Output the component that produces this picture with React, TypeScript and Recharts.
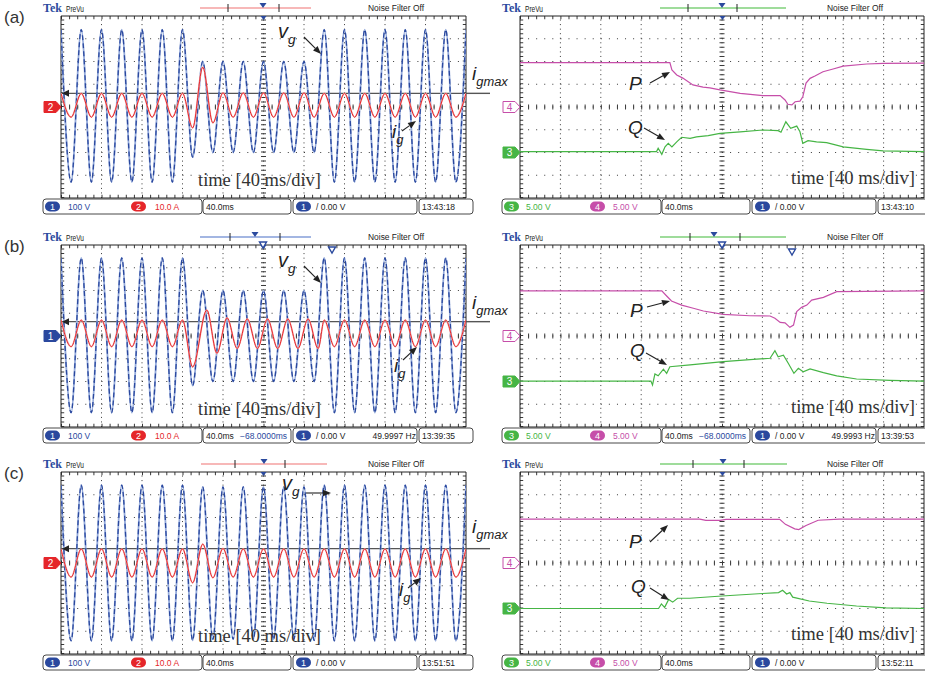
import { ComposedChart, Line, ReferenceLine, XAxis, YAxis } from 'recharts';

type Pt = [number, number];
type Lag = { from: number; to: number; div: number };

// one extremum per half cycle (10 ms = 0.25 div at 40 ms/div), in scope divisions
const HALF = 0.25;

const VG_A = [
  3.4, -3.3, 3.4, -3.3, 3.4, -3.3, 3.4, -3.3, 3.4, -3.3, 3.4, -3.3, 3.4,
  -2.2, 2.0, -2.0, 2.0, -2.0, 2.0, -2.0, 2.0, -2.0, 2.0, -2.0, 2.0, -2.0,
  3.4, -3.3, 3.4, -3.3, 3.4, -3.3, 3.4, -3.3, 3.4, -3.3, 3.4, -3.3, 3.4, -3.3, 3.4,
];
const IG_A = [
  0.6, -0.45, 0.6, -0.45, 0.6, -0.45, 0.6, -0.45, 0.6, -0.45, 0.6, -0.45, 0.6,
  -0.92, 1.75, -0.7, 0.62, -0.45, 0.62, -0.45, 0.62, -0.45, 0.62, -0.45, 0.62, -0.45,
  0.6, -0.45, 0.6, -0.45, 0.6, -0.45, 0.6, -0.45, 0.6, -0.45, 0.6, -0.45, 0.6, -0.45, 0.6,
];

const VG_B = [
  3.43, -3.37, 3.43, -3.37, 3.43, -3.37, 3.43, -3.37, 3.43, -3.37, 3.43, -3.37, 3.43,
  -2.18, 2.0, -2.0, 2.0, -2.0, 2.0, -2.0, 2.0, -2.0, 2.0, -2.0, 2.0, -2.0,
  3.43, -3.37, 3.43, -3.37, 3.43, -3.37, 3.43, -3.37, 3.43, -3.37, 3.43, -3.37, 3.43, -3.37, 3.43,
];
const IG_B = [
  0.7, -0.47, 0.7, -0.47, 0.7, -0.47, 0.7, -0.47, 0.7, -0.47, 0.7, -0.47, 0.7,
  -1.36, 1.14, -0.76, 0.8, -0.55, 0.75, -0.55, 0.75, -0.55, 0.75, -0.55, 0.75, -0.55,
  0.7, -0.47, 0.7, -0.47, 0.7, -0.47, 0.7, -0.47, 0.7, -0.47, 0.7, -0.47, 0.7, -0.47, 0.7,
];
const IG_B_LAG: Lag = { from: 14, to: 25, div: 0.1 };

const VG_C = [
  3.42, -3.42, 3.42, -3.42, 3.42, -3.42, 3.42, -3.42, 3.42, -3.42, 3.42, -3.42, 3.42,
  -3.4, 3.35, -3.35, 3.35, -3.35, 3.35, -3.35, 3.35, -3.35, 3.35, -3.35, 3.35, -3.4,
  3.42, -3.42, 3.42, -3.42, 3.42, -3.42, 3.42, -3.42, 3.42, -3.42, 3.42, -3.42, 3.42, -3.42, 3.42,
];
const IG_C = [
  0.62, -0.62, 0.62, -0.62, 0.62, -0.62, 0.62, -0.62, 0.62, -0.62, 0.62, -0.62, 0.62,
  -0.87, 0.83, -0.65, 0.64, -0.62, 0.62, -0.62, 0.62, -0.62, 0.62, -0.62, 0.62, -0.62,
  0.62, -0.62, 0.62, -0.62, 0.62, -0.62, 0.62, -0.62, 0.62, -0.62, 0.62, -0.62, 0.62, -0.62, 0.62,
];

const IGMAX = [0.6, 0.63, 0.63];

// P and Q traces: [time (div), level (div)]
const P_A: Pt[] = [
  [0, 1.95], [3.71, 1.95], [3.76, 1.63], [3.88, 1.41], [4.03, 1.27], [4.28, 0.97], [4.53, 0.87],
  [4.7, 0.84], [4.95, 0.75], [5.45, 0.6], [6.01, 0.5], [6.44, 0.5], [6.56, 0.31], [6.63, 0.12],
  [6.73, 0.09], [6.81, 0.23], [6.93, 0.26], [7.0, 0.45], [7.08, 1.05], [7.18, 1.26], [7.3, 1.36],
  [7.5, 1.55], [7.75, 1.67], [8.0, 1.8], [8.58, 1.89], [8.99, 1.92], [10, 1.93],
];
const Q_A: Pt[] = [
  [0, -1.96], [3.38, -1.96], [3.42, -1.81], [3.51, -2.08], [3.59, -1.75], [3.67, -1.6], [3.76, -1.75],
  [3.88, -1.53], [4.0, -1.33], [4.21, -1.38], [4.37, -1.31], [4.66, -1.26], [4.95, -1.16],
  [5.45, -1.09], [6.01, -1.01], [6.39, -1.04], [6.46, -1.11], [6.58, -0.65], [6.7, -0.94],
  [6.85, -0.84], [6.93, -1.09], [7.0, -1.6], [7.13, -1.48], [7.34, -1.53], [7.59, -1.57],
  [8.0, -1.75], [8.58, -1.86], [8.99, -1.93], [10, -1.96],
];
const P_B: Pt[] = [
  [0, 1.98], [3.51, 1.98], [3.63, 1.76], [3.75, 1.54], [4.0, 1.36], [4.29, 1.22], [4.54, 1.1],
  [5.03, 0.95], [5.69, 0.89], [6.19, 0.88], [6.31, 0.78], [6.44, 0.6], [6.56, 0.58], [6.68, 0.38],
  [6.77, 0.48], [6.85, 1.07], [6.97, 1.26], [7.1, 1.36], [7.22, 1.58], [7.51, 1.7], [7.84, 1.95],
  [10, 1.98],
];
const Q_B: Pt[] = [
  [0, -1.98], [3.24, -1.98], [3.28, -2.15], [3.34, -1.67], [3.42, -1.75], [3.55, -1.46],
  [3.63, -1.64], [3.71, -1.35], [4.21, -1.27], [5.03, -1.13], [5.86, -1.02], [6.19, -0.98],
  [6.31, -0.65], [6.39, -0.91], [6.52, -0.84], [6.64, -1.2], [6.78, -1.64], [6.89, -1.42],
  [7.01, -1.57], [7.18, -1.45], [7.51, -1.61], [7.84, -1.75], [8.33, -1.89], [9.16, -1.95],
  [10, -1.98],
];
const P_C: Pt[] = [
  [0, 1.93], [4.45, 1.93], [4.6, 1.87], [4.95, 1.87], [5.1, 1.92], [6.43, 1.92], [6.57, 1.7],
  [6.8, 1.5], [6.9, 1.47], [7.08, 1.65], [7.38, 1.88], [7.9, 1.93], [10, 1.93],
];
const Q_C: Pt[] = [
  [0, -2.0], [3.43, -2.0], [3.5, -1.8], [3.58, -1.95], [3.68, -1.6], [3.78, -1.72], [3.9, -1.55],
  [4.2, -1.55], [5.0, -1.45], [6.0, -1.34], [6.4, -1.3], [6.5, -1.2], [6.6, -1.36], [6.68, -1.3],
  [6.75, -1.5], [7.16, -1.67], [7.6, -1.77], [8.33, -1.89], [9.06, -1.97], [10, -2.0],
];

// layout
const GRID_H = 182;
const LX = 61;
const LW = 405;
const RX = 520;
const RW = 404;
const PAD = 4;
const SANS = '"Liberation Sans", Arial, sans-serif';
const SERIF = '"Liberation Serif", "Times New Roman", serif';

const BLUE = '#2a489e';
const BLUE_LT = '#94aadb';
const RED = '#e5262a';
const RED_LT = '#f7b8b8';
const MAG = '#c64ea9';
const GRN = '#46b545';
const GRID = '#3a3a3a';

function wave(ext: number[], lag?: Lag) {
  return ext.map((v, k) => ({
    t: k * HALF + (lag && k >= lag.from && k <= lag.to ? lag.div : 0),
    v,
  }));
}
const trace = (pts: Pt[]) => pts.map(([t, v]) => ({ t, v }));

function graticule(w: number) {
  const dx = `1 ${w / 50 - 1}`;
  const dy = `1 ${GRID_H / 40 - 1}`;
  const ex = 1.6 / (w / 10);
  const ey = 1.6 / (GRID_H / 8);
  const els = [];
  for (let i = 1; i < 10; i++)
    els.push(<ReferenceLine key={'vx' + i} x={i} stroke={GRID} strokeDasharray={dy} />);
  for (let j = -3; j <= 3; j++)
    els.push(<ReferenceLine key={'hy' + j} y={j} stroke={GRID} strokeDasharray={dx} />);
  els.push(<ReferenceLine key="cx" x={5} stroke={GRID} strokeWidth={5} strokeDasharray={dy} />);
  els.push(<ReferenceLine key="cy" y={0} stroke={GRID} strokeWidth={5} strokeDasharray={dx} />);
  els.push(<ReferenceLine key="bt" y={4 - ey} stroke={GRID} strokeWidth={3.2} strokeDasharray={dx} />);
  els.push(<ReferenceLine key="bb" y={-4 + ey} stroke={GRID} strokeWidth={3.2} strokeDasharray={dx} />);
  els.push(<ReferenceLine key="bl" x={ex} stroke={GRID} strokeWidth={3.2} strokeDasharray={dy} />);
  els.push(<ReferenceLine key="br" x={10 - ex} stroke={GRID} strokeWidth={3.2} strokeDasharray={dy} />);
  for (const x of [0, 10]) els.push(<ReferenceLine key={'fx' + x} x={x} stroke="#222" />);
  for (const y of [-4, 4]) els.push(<ReferenceLine key={'fy' + y} y={y} stroke="#222" />);
  return els;
}

function Scope({ x, y, w, children }: { x: number; y: number; w: number; children: any }) {
  return (
    <div style={{ position: 'absolute', left: x - PAD, top: y - PAD }}>
      <ComposedChart
        width={w + 2 * PAD}
        height={GRID_H + 2 * PAD}
        margin={{ top: PAD, right: PAD, bottom: PAD, left: PAD }}
      >
        <XAxis type="number" dataKey="t" domain={[0, 10]} hide allowDataOverflow />
        <YAxis type="number" domain={[-4, 4]} hide allowDataOverflow />
        {graticule(w)}
        {children}
      </ComposedChart>
    </div>
  );
}

function blueWave(id: string, ext: number[]) {
  const d = wave(ext);
  return [
    <Line key={id + 'l'} data={d} dataKey="v" type="monotone" stroke={BLUE_LT} strokeWidth={1.8} dot={false} isAnimationActive={false} />,
    <Line key={id + 'd'} data={d} dataKey="v" type="monotone" stroke={BLUE} strokeWidth={1.3} strokeDasharray="5 3" dot={false} isAnimationActive={false} />,
  ];
}
function redWave(id: string, ext: number[], lag?: Lag) {
  const d = wave(ext, lag);
  return [
    <Line key={id + 'l'} data={d} dataKey="v" type="monotone" stroke={RED_LT} strokeWidth={1.7} dot={false} isAnimationActive={false} />,
    <Line key={id + 'd'} data={d} dataKey="v" type="monotone" stroke={RED} strokeWidth={1} dot={false} isAnimationActive={false} />,
  ];
}
function slow(id: string, pts: Pt[], color: string) {
  return (
    <Line key={id} data={trace(pts)} dataKey="v" type="linear" stroke={color} strokeWidth={1.2} dot={false} isAnimationActive={false} />
  );
}

const ROWS = [
  {
    top: 16, label: '(a)', vg: VG_A, ig: IG_A, lag: undefined as Lag | undefined, p: P_A, q: Q_A,
    lbar: { c: RED_LT, x1: 200, x2: 311, ticks: [228, 279], tri: 263 },
    rbar: { c: '#9fdc9b', x1: 660, x2: 786, ticks: [688, 737], tri: 722 },
    marks: [] as number[][], chTag: { n: '2', c: RED },
    vgLab: [278, 38], vgArr: [304, 37, 321, 54], igmaxLab: [472, 80], igLab: [392, 138], igArr: [402, 131, 416, 121],
    pLab: [629, 90], pArr: [650, 83, 670, 72], qLab: [628, 134], qArr: [644, 128, 665, 140],
    time: ['13:43:18', '13:43:10'], extra: false,
  },
  {
    top: 245, label: '(b)', vg: VG_B, ig: IG_B, lag: IG_B_LAG, p: P_B, q: Q_B,
    lbar: { c: '#a3b6e2', x1: 200, x2: 311, ticks: [230, 280], tri: 255 },
    rbar: { c: '#9fdc9b', x1: 660, x2: 786, ticks: [690, 740], tri: 714 },
    marks: [[263, 245], [332, 250], [722, 245], [792, 252]], chTag: { n: '1', c: BLUE },
    vgLab: [278, 267], vgArr: [304, 266, 321, 283], igmaxLab: [472, 309], igLab: [394, 372], igArr: [403, 360, 417, 347],
    pLab: [630, 317], pArr: [647, 307, 670, 301], qLab: [630, 357], qArr: [646, 353, 667, 365],
    time: ['13:39:35', '13:39:53'], extra: true,
  },
  {
    top: 472, label: '(c)', vg: VG_C, ig: IG_C, lag: undefined as Lag | undefined, p: P_C, q: Q_C,
    lbar: { c: RED_LT, x1: 201, x2: 327, ticks: [235, 285], tri: 264 },
    rbar: { c: '#9fdc9b', x1: 660, x2: 787, ticks: [693, 744], tri: 723 },
    marks: [] as number[][], chTag: { n: '2', c: RED },
    vgLab: [282, 490], vgArr: [306, 493, 331, 493], igmaxLab: [472, 533], igLab: [399, 596], igArr: [408, 588, 421, 578],
    pLab: [629, 548], pArr: [650, 542, 668, 525], qLab: [631, 593], qArr: [650, 588, 669, 600],
    time: ['13:51:51', '13:52:11'], extra: false,
  },
];

const yOf = (top: number, v: number) => top + ((4 - v) * GRID_H) / 8;

function Arrow({ a }: { a: number[] }) {
  const [x1, y1, x2, y2] = a;
  const ang = Math.atan2(y2 - y1, x2 - x1);
  const L = 8;
  const hw = 3.2;
  const bx = x2 - L * Math.cos(ang);
  const by = y2 - L * Math.sin(ang);
  const px = -Math.sin(ang) * hw;
  const py = Math.cos(ang) * hw;
  return (
    <g>
      <line x1={x1} y1={y1} x2={bx} y2={by} stroke="#222" strokeWidth={1.1} />
      <polygon points={`${x2},${y2} ${bx + px},${by + py} ${bx - px},${by - py}`} fill="#222" />
    </g>
  );
}

function Tag({ x, y, n, c, hollow }: { x: number; y: number; n: string; c: string; hollow?: boolean }) {
  const pts = `${x - 17},${y - 5.5} ${x - 5},${y - 5.5} ${x},${y} ${x - 5},${y + 5.5} ${x - 17},${y + 5.5}`;
  return (
    <g>
      <polygon points={pts} fill={hollow ? '#fff' : c} stroke={c} strokeWidth={1} />
      <text x={x - 10.5} y={y + 3.5} textAnchor="middle" fontSize={10} fontFamily={SANS} fill={hollow ? c : '#fff'}>
        {n}
      </text>
    </g>
  );
}

function Pill({ x, y, n, c }: { x: number; y: number; n: string; c: string }) {
  return (
    <g>
      <rect x={x} y={y - 5} width={15} height={10} rx={5} fill={c} />
      <text x={x + 7.5} y={y + 3.3} textAnchor="middle" fontSize={9} fontFamily={SANS} fill="#fff">
        {n}
      </text>
    </g>
  );
}

function Header({ gx, gy, bar }: { gx: number; gy: number; bar: any }) {
  const by = gy - 8;
  const mid = gx + 202.5;
  return (
    <g>
      <text x={gx - 18} y={gy - 4} fontSize={12} fontWeight="bold" fontFamily={SERIF} fill="#2b4a9e">
        Tek
      </text>
      <text x={gx + 5} y={gy - 4} fontSize={9} fontFamily={SANS} fill="#222" textLength={18} lengthAdjust="spacingAndGlyphs">
        PreVu
      </text>
      <line x1={bar.x1} y1={by} x2={bar.x2} y2={by} stroke={bar.c} strokeWidth={2.2} />
      {bar.ticks.map((t: number) => (
        <line key={t} x1={t} y1={by - 4} x2={t} y2={by + 4} stroke="#222" strokeWidth={1} />
      ))}
      <polygon points={`${bar.tri - 3.5},${by - 5} ${bar.tri + 3.5},${by - 5} ${bar.tri},${by}`} fill="#2b4a9e" />
      <polygon points={`${mid - 3},${gy} ${mid + 3},${gy} ${mid},${gy + 4}`} fill="#2b4a9e" />
      <text x={gx + 307} y={gy - 5} fontSize={8.5} fontFamily={SANS} fill="#222" textLength={56} lengthAdjust="spacingAndGlyphs">
        Noise Filter Off
      </text>
    </g>
  );
}

function Status({ gx, sy, right, extra, clock }: { gx: number; sy: number; right: boolean; extra: boolean; clock: string }) {
  const cy = sy + 7.5;
  const ty = sy + 10.8;
  const box = (x1: number, x2: number) => (
    <rect x={x1} y={sy} width={x2 - x1} height={15} rx={3} fill="none" stroke="#333" strokeWidth={0.9} />
  );
  return (
    <g fontFamily={SANS} fontSize={8.5}>
      {box(gx - 18, gx + 141)}
      {box(gx + 142, gx + 230)}
      {box(gx + 232, gx + 356)}
      {box(gx + 358, gx + 412)}
      {right ? (
        <>
          <Pill x={gx - 16} y={cy} n="3" c={GRN} />
          <text x={gx + 6} y={ty} fill={GRN}>5.00 V</text>
          <Pill x={gx + 70} y={cy} n="4" c={MAG} />
          <text x={gx + 93} y={ty} fill={MAG}>5.00 V</text>
        </>
      ) : (
        <>
          <Pill x={gx - 16} y={cy} n="1" c={BLUE} />
          <text x={gx + 7} y={ty} fill={BLUE}>100 V</text>
          <Pill x={gx + 70} y={cy} n="2" c={RED} />
          <text x={gx + 94} y={ty} fill={RED}>10.0 A</text>
        </>
      )}
      <text x={gx + 145} y={ty} fill="#222">40.0ms</text>
      {extra && (
        <text x={gx + 179} y={ty} fill={BLUE}>−68.0000ms</text>
      )}
      <Pill x={gx + 235} y={cy} n="1" c={BLUE} />
      <text x={gx + 255} y={ty} fill="#222">/ 0.00 V</text>
      {extra && (
        <text x={gx + 355} y={ty} fill="#222" textAnchor="end">{right ? '49.9993 Hz' : '49.9997 Hz'}</text>
      )}
      <text x={gx + 361} y={ty} fill="#222">{clock}</text>
    </g>
  );
}

function Sub({ x, y, main, sub, size }: { x: number; y: number; main: string; sub: string; size: number }) {
  return (
    <text x={x} y={y} fontFamily={SANS} fontStyle="italic" fontSize={size} fill="#222">
      {main}
      <tspan dy={size * 0.3} fontSize={size * 0.68}>
        {sub}
      </tspan>
    </text>
  );
}

export default function App() {
  return (
    <div style={{ position: 'absolute', left: 0, top: 0, width: 925, height: 674, background: '#fff', overflow: 'hidden' }}>
      {ROWS.map((r, i) => (
        <div key={i}>
          <Scope x={LX} y={r.top} w={LW}>
            {[
              <ReferenceLine key="igmax" y={IGMAX[i]} stroke="#555" strokeWidth={1.4} />,
              ...blueWave('vg' + i, r.vg),
              ...redWave('ig' + i, r.ig, r.lag),
            ]}
          </Scope>
          <Scope x={RX} y={r.top} w={RW}>
            {[slow('p' + i, r.p, MAG), slow('q' + i, r.q, GRN)]}
          </Scope>
        </div>
      ))}
      <svg width={925} height={674} style={{ position: 'absolute', left: 0, top: 0, pointerEvents: 'none' }}>
        {ROWS.map((r, i) => {
          const gy = r.top;
          const sy = gy + GRID_H + 1;
          const yi = yOf(gy, IGMAX[i]);
          return (
            <g key={i}>
              <text x={4} y={gy + 7} fontSize={17} fontFamily={SANS} fill="#333">
                {r.label}
              </text>
              <Header gx={LX} gy={gy} bar={r.lbar} />
              <Header gx={RX} gy={gy} bar={r.rbar} />
              {r.marks.map(([mx, my], k) => (
                <polygon key={k} points={`${mx - 3.5},${my - 3} ${mx + 3.5},${my - 3} ${mx},${my + 3}`} fill="#fff" stroke="#2b4a9e" strokeWidth={1.4} />
              ))}
              <Status gx={LX} sy={sy} right={false} extra={r.extra} clock={r.time[0]} />
              <Status gx={RX} sy={sy} right extra={r.extra} clock={r.time[1]} />
              {/* igmax line continues past the graticule */}
              <line x1={LX + LW} y1={yi} x2={490} y2={yi} stroke="#555" strokeWidth={1.4} />
              <polygon points={`${LX + 1},${yi} ${LX + 8},${yi - 3.5} ${LX + 8},${yi + 3.5}`} fill="#222" />
              <Tag x={LX} y={yOf(gy, 0)} n={r.chTag.n} c={r.chTag.c} />
              <Tag x={RX} y={yOf(gy, 0)} n="4" c={MAG} hollow />
              <Tag x={RX} y={yOf(gy, -2)} n="3" c={GRN} />
              <Sub x={r.vgLab[0]} y={r.vgLab[1]} main="v" sub="g" size={20} />
              <Arrow a={r.vgArr} />
              <Sub x={r.igmaxLab[0]} y={r.igmaxLab[1]} main="i" sub="gmax" size={19} />
              <Sub x={r.igLab[0]} y={r.igLab[1]} main="i" sub="g" size={19} />
              <Arrow a={r.igArr} />
              <text x={r.pLab[0]} y={r.pLab[1]} fontFamily={SANS} fontStyle="italic" fontSize={19} fill="#222">P</text>
              <Arrow a={r.pArr} />
              <text x={r.qLab[0]} y={r.qLab[1]} fontFamily={SANS} fontStyle="italic" fontSize={19} fill="#222">Q</text>
              <Arrow a={r.qArr} />
              <text x={198} y={sy - 13} fontFamily={SERIF} fontSize={18} fill="#333" textLength={123} lengthAdjust="spacingAndGlyphs">
                time [40 ms/div]
              </text>
              <text x={791} y={sy - 15} fontFamily={SERIF} fontSize={18} fill="#333" textLength={124} lengthAdjust="spacingAndGlyphs">
                time [40 ms/div]
              </text>
            </g>
          );
        })}
      </svg>
    </div>
  );
}
